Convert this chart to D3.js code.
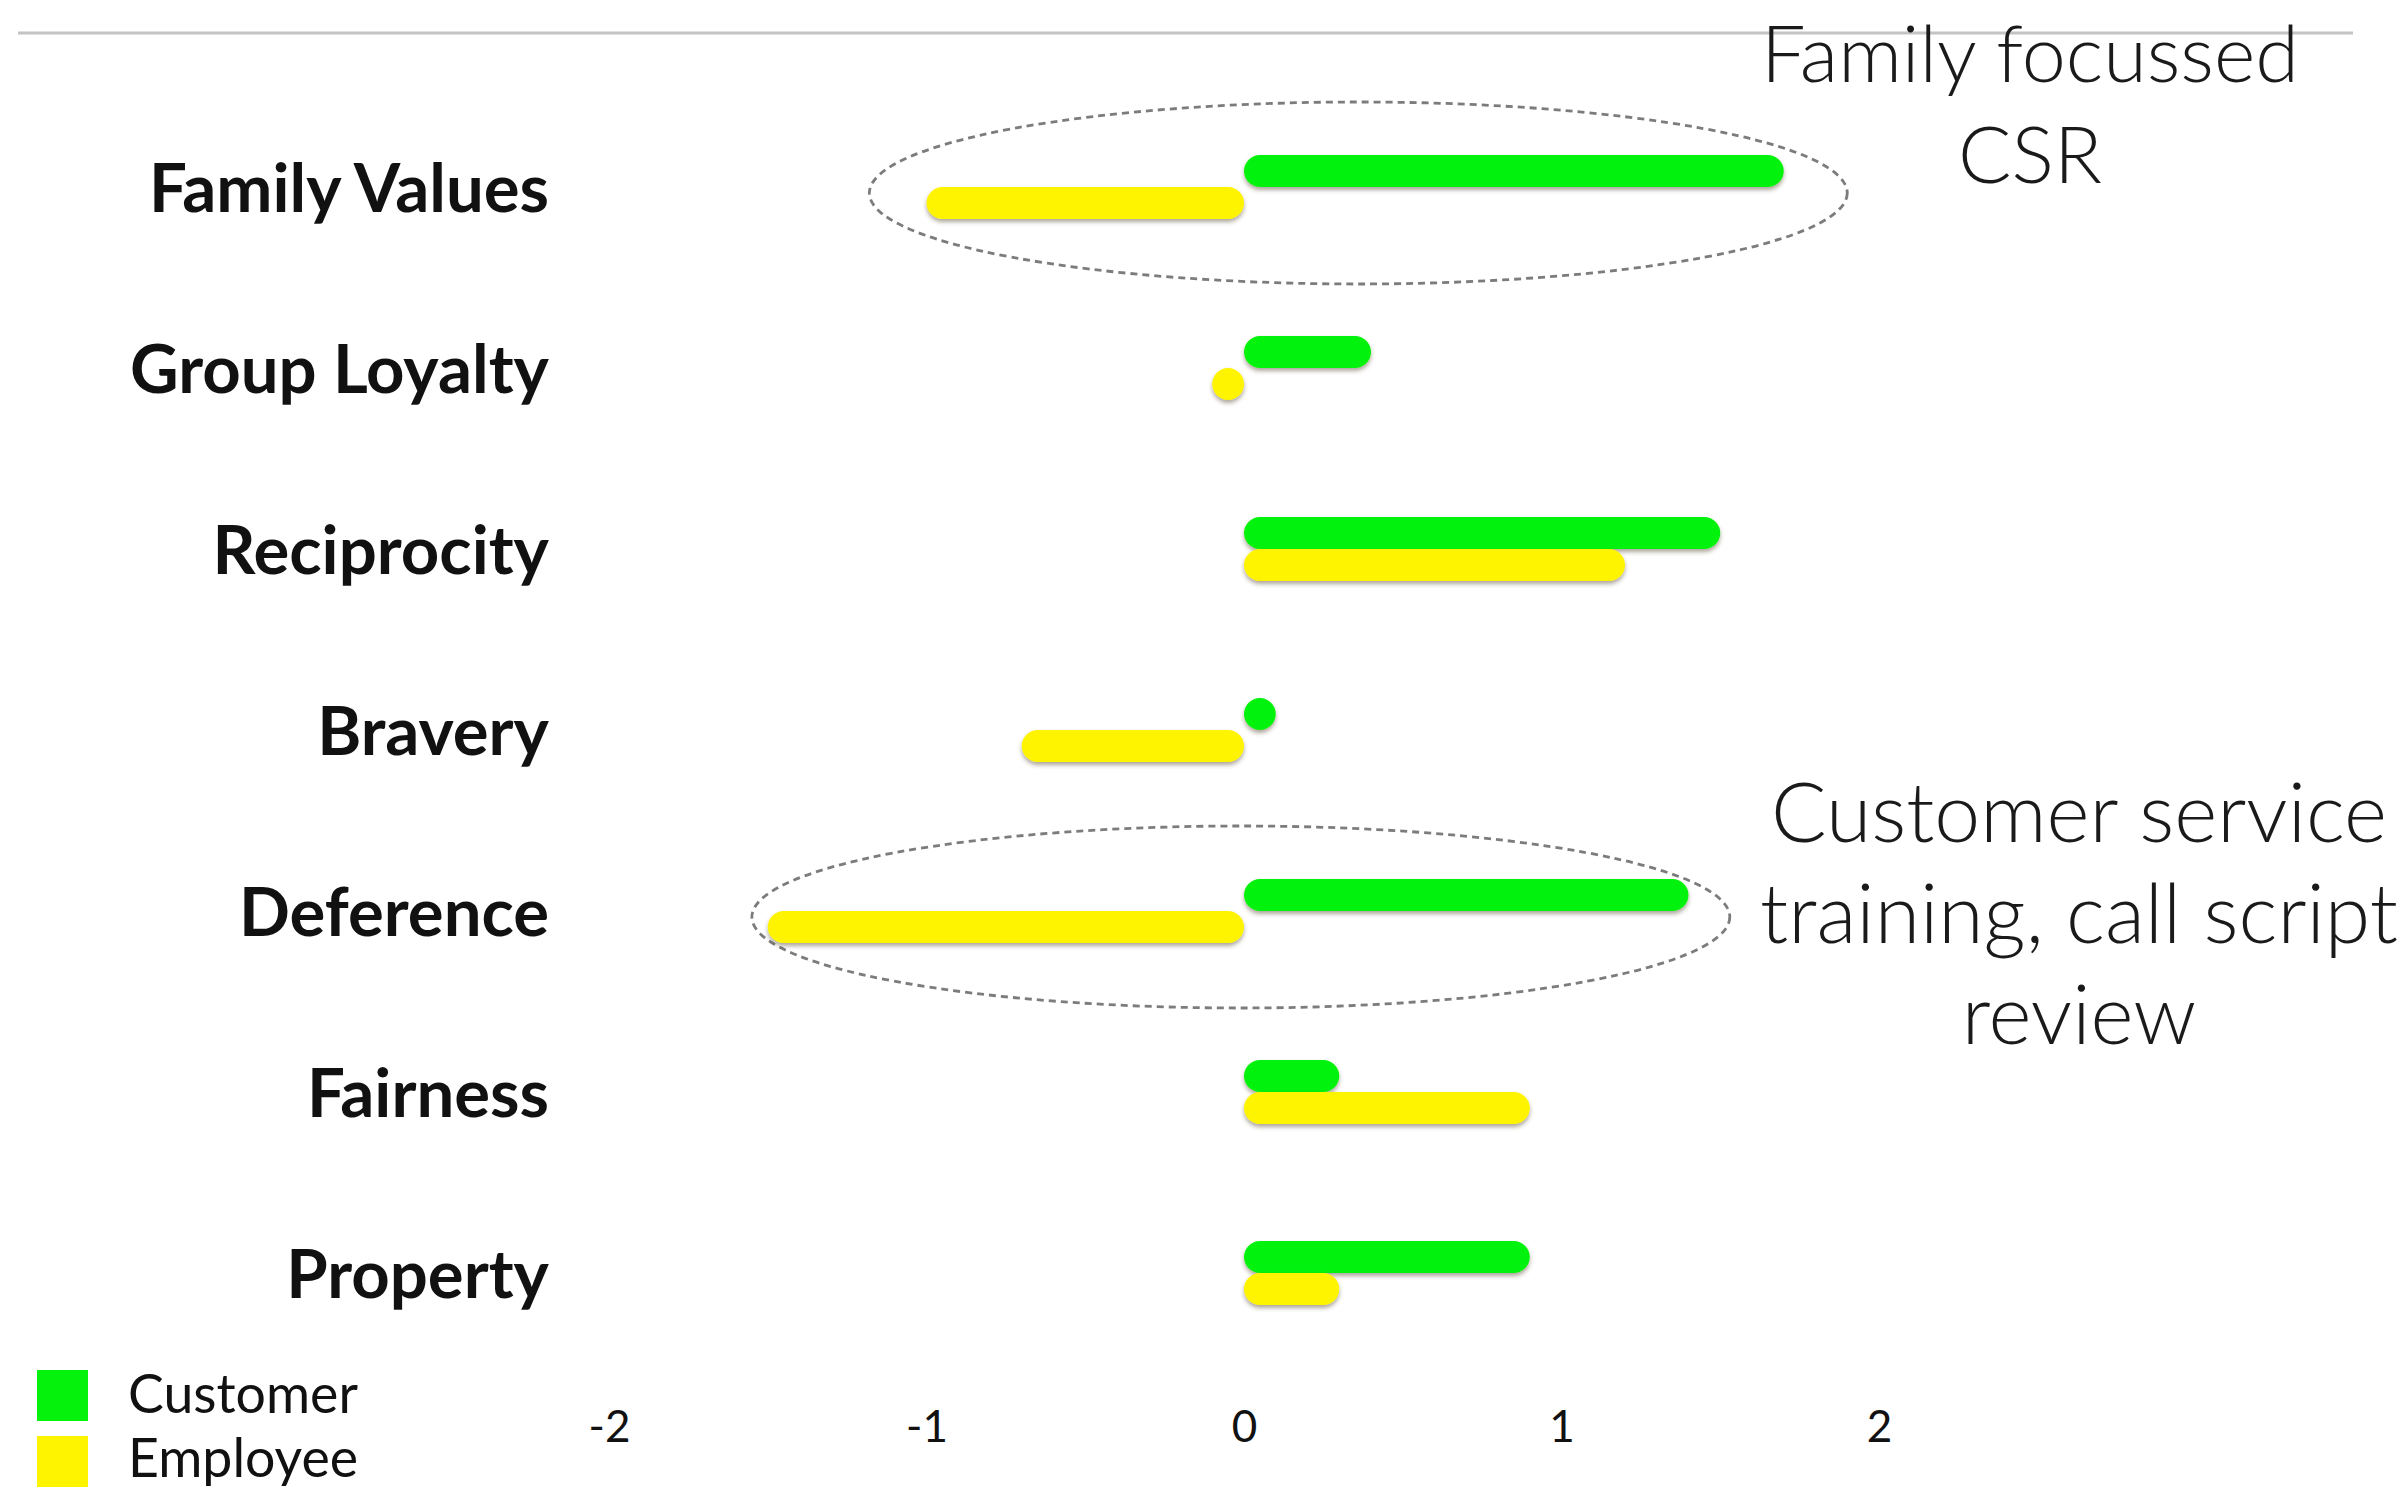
<!DOCTYPE html>
<html>
<head>
<meta charset="utf-8">
<script src="https://cdn.jsdelivr.net/npm/d3@7"></script>
<style>
  html, body { margin: 0; padding: 0; background: #fff; }
  svg { display: block; }
</style>
</head>
<body>
<svg id="chart" width="2404" height="1491"></svg>
<script>
// Moral foundation scores, customer vs employee
const categories = ["Family Values", "Group Loyalty", "Reciprocity", "Bravery", "Deference", "Fairness", "Property"];
const customerScores = [1.7, 0.4, 1.5, 0.1, 1.4, 0.3, 0.9];
const employeeScores = [-1.0, -0.1, 1.2, -0.7, -1.5, 0.9, 0.3];
const seriesNames = ["Customer", "Employee"];
const seriesColors = ["#04f20c", "#fff400"];
const tickValues = [-2, -1, 0, 1, 2];

// Highlighted rows with their dashed ring (value extent) and note text
const callouts = [
  { category: "Family Values", from: -1.18, to: 1.9, lines: ["Family focussed", "CSR"] },
  { category: "Deference", from: -1.55, to: 1.53, lines: ["Customer service", "training, call script", "review"] }
];

const svg = d3.select("#chart");
const W = 2404, H = 1491;

svg.append("rect").attr("width", W).attr("height", H).attr("fill", "#fff");

const defs = svg.append("defs");
const shadow = defs.append("filter").attr("id", "barShadow")
  .attr("x", "-10%").attr("y", "-40%").attr("width", "120%").attr("height", "200%");
shadow.append("feDropShadow")
  .attr("dx", 0).attr("dy", 3).attr("stdDeviation", 2)
  .attr("flood-color", "#4a3a20").attr("flood-opacity", 0.45);

const x = d3.scaleLinear().domain([-2, 2]).range([609, 1879]);
const y = d3.scalePoint().domain(categories).range([187, 1273]);
const barH = 32;

// Fit a text selection's font size so the first node spans the given width
function fitWidth(sel, target) {
  const node = sel.node();
  const cur = parseFloat(sel.attr("font-size"));
  const w = node.getComputedTextLength();
  return cur * target / w;
}

// Top rule
svg.append("line")
  .attr("x1", 18).attr("x2", 2353).attr("y1", 33).attr("y2", 33)
  .attr("stroke", "#c4c4c4").attr("stroke-width", 3);

// Dashed rings around highlighted rows
svg.append("g").selectAll("ellipse")
  .data(callouts)
  .join("ellipse")
  .attr("cx", d => (x(d.from) + x(d.to)) / 2)
  .attr("cy", d => y(d.category) + 6)
  .attr("rx", d => (x(d.to) - x(d.from)) / 2)
  .attr("ry", 91)
  .attr("fill", "none")
  .attr("stroke", "#7c7c7c")
  .attr("stroke-width", 2.8)
  .attr("stroke-dasharray", "7,5");

// Bars: customer on top, employee just below, rounded ends
const rows = categories.map((c, i) => ({ category: c, values: [customerScores[i], employeeScores[i]] }));
const barData = rows.flatMap(r => r.values.map((v, s) => ({ category: r.category, value: v, series: s })));

svg.append("g").selectAll("rect")
  .data(barData)
  .join("rect")
  .attr("x", d => Math.min(x(0), x(d.value)))
  .attr("y", d => y(d.category) + (d.series === 0 ? -barH : 0))
  .attr("width", d => Math.max(Math.abs(x(d.value) - x(0)), barH * 0.95))
  .attr("height", barH)
  .attr("rx", barH / 2).attr("ry", barH / 2)
  .attr("fill", d => seriesColors[d.series])
  .attr("filter", "url(#barShadow)");

// Category labels
const labelG = svg.append("g")
  .attr("font-family", "Lato, 'Open Sans', sans-serif")
  .attr("font-weight", 700)
  .attr("fill", "#111");
const labels = labelG.selectAll("text")
  .data(categories)
  .join("text")
  .attr("x", 549)
  .attr("y", d => y(d) + 25)
  .attr("text-anchor", "end")
  .attr("font-size", 60)
  .text(d => d);
{
  const fs1 = fitWidth(labels.filter(d => d === "Family Values"), 385);
  const fs2 = fitWidth(labels.filter(d => d === "Group Loyalty"), 435);
  labels.attr("font-size", (fs1 + fs2) / 2);
}

// Value axis: labels only
const axis = d3.axisBottom(x)
  .tickValues(tickValues)
  .tickSize(0)
  .tickPadding(0)
  .tickFormat(d => String(d).replace("\u2212", "-"));
const axisG = svg.append("g")
  .attr("transform", "translate(0,1442)")
  .call(axis);
axisG.select(".domain").remove();
axisG.selectAll("text")
  .attr("dy", 0)
  .attr("y", 0)
  .attr("font-family", "Lato, 'Open Sans', sans-serif")
  .attr("font-size", 44)
  .attr("fill", "#111");

// Legend
const legend = svg.append("g");
const legendRows = seriesNames.map((n, i) => ({ name: n, color: seriesColors[i], i }));
legend.selectAll("rect")
  .data(legendRows)
  .join("rect")
  .attr("x", 37)
  .attr("y", d => 1370 + d.i * 66)
  .attr("width", 51).attr("height", 51)
  .attr("fill", d => d.color);
const legendText = legend.selectAll("text")
  .data(legendRows)
  .join("text")
  .attr("x", 128)
  .attr("y", d => 1413 + d.i * 64)
  .attr("font-family", "Lato, 'Open Sans', sans-serif")
  .attr("font-size", 46)
  .attr("fill", "#111")
  .text(d => d.name);
legendText.attr("font-size", fitWidth(legendText.filter(d => d.i === 0), 230));

// Notes beside the highlighted rows
const notePlacement = [
  { cx: 2030, baseline: 82, lineGap: 101, width: 538 },
  { cx: 2079, baseline: 842, lineGap: 101, width: 616 }
];
callouts.forEach((c, k) => {
  const p = notePlacement[k];
  const t = svg.append("g")
    .attr("font-family", "Lato, 'Open Sans', sans-serif")
    .attr("font-weight", 300)
    .attr("fill", "#1a1a1a")
    .selectAll("text")
    .data(c.lines)
    .join("text")
    .attr("x", p.cx)
    .attr("y", (d, i) => p.baseline + i * p.lineGap)
    .attr("text-anchor", "middle")
    .attr("font-size", 80)
    .text(d => d);
  t.attr("font-size", fitWidth(t.filter((d, i) => i === 0), p.width));
});
</script>
</body>
</html>
